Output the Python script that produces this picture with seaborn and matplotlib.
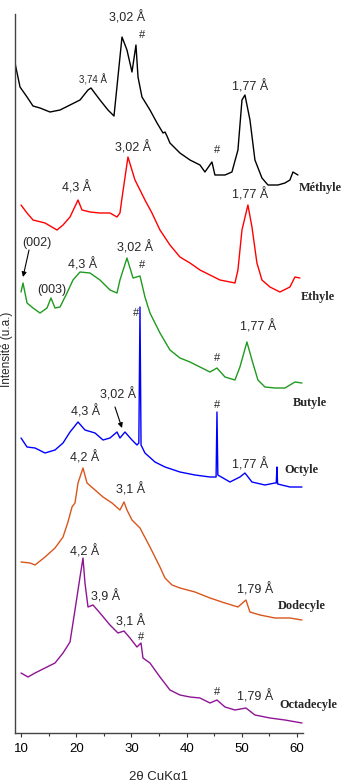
import matplotlib
matplotlib.use("Agg")
import matplotlib.pyplot as plt
import seaborn as sns
import pandas as pd

# ---------------- data (2theta in degrees, stacked intensity in a.u.) ----------------
methyle_x = [8.91, 9.82, 11.09, 12.17, 13.44, 15.25, 17.07, 18.88, 20.69, 22.14, 22.68, 24.31,
             25.76, 26.85, 28.30, 29.20, 30.11, 30.83, 31.20, 31.92, 33.37, 34.65, 35.73, 36.09,
             36.45, 36.99, 38.80, 40.62, 42.43, 43.33, 44.60, 45.14, 46.96, 48.22, 49.31, 50.04,
             50.58, 51.49, 52.39, 53.66, 54.75, 56.56, 57.83, 58.73, 59.28, 60.18]
methyle_y = [670, 646, 636, 627, 625, 621, 623, 628, 633, 643, 645, 633,
             623, 617, 696, 683, 661, 688, 656, 636, 623, 610, 600, 601,
             597, 590, 580, 573, 568, 561, 571, 558, 558, 561, 583, 633,
             638, 613, 573, 555, 548, 548, 550, 553, 561, 558]

ethyle_x = [10.0, 11.09, 12.17, 14.35, 16.52, 17.61, 18.88, 20.33, 21.05, 22.50, 24.31, 26.12,
            27.39, 27.93, 28.30, 29.38, 30.65, 31.56, 32.46, 33.73, 35.18, 36.99, 38.80, 40.62,
            42.43, 44.24, 46.05, 48.77, 49.31, 50.04, 51.12, 51.85, 52.75, 53.66, 55.11, 56.92,
            58.73, 59.64, 60.54]
ethyle_y = [528, 520, 513, 510, 503, 508, 516, 533, 523, 521, 520, 520,
            516, 520, 535, 576, 553, 543, 533, 520, 503, 488, 476, 470,
            463, 458, 453, 450, 463, 503, 528, 506, 470, 453, 446, 441,
            446, 456, 455]

butyle_x = [10.0, 10.36, 11.09, 12.17, 13.44, 14.71, 15.43, 16.16, 17.07, 18.33, 19.42, 20.69,
            22.50, 24.31, 26.12, 27.39, 27.93, 29.20, 30.30, 31.56, 32.46, 33.37, 35.18, 36.99,
            38.80, 40.62, 42.43, 44.24, 45.51, 46.96, 48.77, 49.67, 50.94, 51.85, 52.93, 54.20,
            56.01, 57.83, 59.64, 60.91]
butyle_y = [441, 450, 430, 425, 420, 425, 435, 425, 426, 440, 453, 461,
            460, 453, 443, 440, 453, 475, 455, 457, 436, 420, 400, 383,
            375, 371, 366, 361, 365, 356, 353, 366, 391, 373, 353, 346,
            345, 345, 351, 350]

octyle_x = [10.0, 11.09, 12.54, 14.35, 16.16, 17.61, 18.88, 20.33, 21.59, 23.41, 24.86, 26.12,
            27.39, 27.93, 28.84, 30.11, 31.01, 31.35, 31.56, 31.75, 32.46, 34.28, 36.09, 38.80,
            41.52, 44.24, 45.35, 45.51, 45.67, 47.86, 49.67, 50.58, 51.85, 54.20, 56.01, 56.25,
            56.38, 56.50, 58.73, 60.91]
octyle_y = [295, 286, 285, 280, 283, 290, 301, 311, 303, 300, 293, 295,
            301, 295, 301, 293, 288, 290, 426, 288, 280, 271, 266, 261,
            258, 256, 256, 321, 258, 251, 256, 260, 251, 248, 250, 250,
            266, 249, 246, 246]

dodecyle_x = [10.0, 11.63, 12.54, 14.35, 16.16, 17.61, 18.51, 19.24, 19.78, 20.33, 21.23, 21.96,
              23.41, 24.86, 26.49, 27.93, 28.66, 29.20, 30.11, 31.56, 33.37, 35.18, 36.09, 37.36,
              38.80, 41.52, 44.24, 46.96, 49.31, 50.76, 51.49, 53.30, 56.01, 58.73, 60.91]
dodecyle_y = [171, 170, 168, 176, 185, 196, 211, 226, 230, 250, 265, 250,
              243, 236, 230, 223, 231, 223, 213, 205, 186, 166, 155, 148,
              145, 141, 135, 130, 126, 133, 121, 118, 115, 115, 113]

octadecyle_x = [10.0, 11.27, 12.54, 14.35, 16.16, 17.61, 18.88, 19.78, 20.69, 21.23, 21.59, 22.14,
                23.04, 24.31, 26.12, 27.57, 28.66, 29.75, 31.01, 31.74, 32.10, 33.37, 35.18, 36.99,
                38.80, 40.62, 42.43, 44.24, 45.51, 46.96, 48.77, 50.76, 52.39, 55.11, 57.83, 60.91]
octadecyle_y = [60, 56, 60, 65, 70, 80, 91, 123, 156, 175, 150, 126,
                128, 120, 108, 100, 102, 95, 86, 90, 75, 70, 56, 43,
                38, 36, 35, 30, 33, 26, 23, 25, 18, 15, 13, 10]

series_names = ["Méthyle", "Ethyle", "Butyle", "Octyle", "Dodecyle", "Octadecyle"]
series_x = [methyle_x, ethyle_x, butyle_x, octyle_x, dodecyle_x, octadecyle_x]
series_y = [methyle_y, ethyle_y, butyle_y, octyle_y, dodecyle_y, octadecyle_y]
colors = ["#000000", "#ff0000", "#1f9a1f", "#0000ff", "#d9561c", "#8e1496"]

# sample name positions (2theta, intensity)
name_pos = [(64.3, 545), (63.8, 436), (62.4, 330), (60.9, 263), (60.9, 127), (62.0, 28)]

# peak annotations: text, 2theta, intensity, fontsize
peak_labels = [
    ("3,02 Å", 29.2, 715, 9), ("#", 31.92, 698, 8), ("3,74 Å", 23.0, 653, 7),
    ("1,77 Å", 51.5, 646, 9), ("#", 45.51, 583, 8),
    ("4,3 Å", 20.1, 545, 9), ("3,02 Å", 30.3, 585, 9), ("1,77 Å", 51.5, 538, 9),
    ("(002)", 12.9, 490, 9), ("(003)", 15.6, 443, 9), ("4,3 Å", 21.2, 468, 9),
    ("3,02 Å", 30.65, 485, 9), ("#", 31.92, 468, 8), ("1,77 Å", 52.9, 406, 9), ("#", 45.51, 375, 8),
    ("#", 30.83, 420, 8), ("4,3 Å", 21.6, 321, 9), ("3,02 Å", 27.6, 338, 9),
    ("#", 45.51, 328, 8), ("1,77 Å", 51.5, 268, 9),
    ("4,2 Å", 21.6, 275, 9), ("3,1 Å", 29.75, 243, 9), ("1,79 Å", 52.4, 143, 9),
    ("4,2 Å", 21.6, 181, 9), ("3,9 Å", 25.4, 136, 9), ("3,1 Å", 29.9, 111, 9),
    ("#", 31.74, 96, 8), ("#", 45.51, 41, 8), ("1,79 Å", 52.4, 36, 9),
]
arrows = [((11.45, 483), (10.36, 456)), ((27.03, 326), (28.3, 305))]

x_ticks = [10, 20, 30, 40, 50, 60]

# ---------------- figure ----------------
sns.set_style("ticks")
plt.rcParams["font.family"] = ["Liberation Sans", "DejaVu Sans"]

fig = plt.figure(figsize=(3.5, 7.84), dpi=100)
ax = fig.add_axes([15 / 350, 51 / 784, 288 / 350, 719 / 784])

for name, xs, ys, c in zip(series_names, series_x, series_y, colors):
    df = pd.DataFrame({"two_theta": xs, "intensity": ys})
    sns.lineplot(data=df, x="two_theta", y="intensity", color=c, lw=1.0,
                 ax=ax, sort=False, estimator=None)

ax.set_xlim(8.91, 61.1)
ax.set_ylim(0, 719)
ax.set_xticks(x_ticks)
ax.set_xticks([15, 25, 35, 45, 55], minor=True)
ax.set_xticklabels([str(t) for t in x_ticks], fontsize=9.5)
ax.tick_params(axis="x", which="major", direction="out", length=3, width=0.8, colors="#333333",
               labelcolor="black", pad=4)
ax.tick_params(axis="x", which="minor", direction="out", length=2, width=0.8, colors="#333333")
ax.set_yticks([])
ax.set_xlabel("2θ CuKα1", fontsize=9.5, labelpad=12)
ax.set_ylabel("")
for s in ["top", "right"]:
    ax.spines[s].set_visible(False)
for s in ["left", "bottom"]:
    ax.spines[s].set_color("#444444")
    ax.spines[s].set_linewidth(1.0)

for txt, x, y, fs in peak_labels:
    ax.text(x, y, txt, ha="center", va="center", fontsize=fs, clip_on=False)

for name, (x, y) in zip(series_names, name_pos):
    ax.text(x, y, name, ha="center", va="center", fontsize=8.8, fontweight="bold",
            family=["Liberation Serif", "DejaVu Serif"], clip_on=False)

for (x0, y0), (x1, y1) in arrows:
    ax.annotate("", xy=(x1, y1), xytext=(x0, y0),
                arrowprops=dict(arrowstyle="-|>", color="black", lw=0.8,
                                mutation_scale=7, shrinkA=0, shrinkB=0),
                annotation_clip=False)

fig.text(7 / 350, 1 - 349 / 784, "Intensité (u.a.)", rotation=90, ha="center", va="center",
         fontsize=8.5)

fig.savefig("out.png", dpi=100)
